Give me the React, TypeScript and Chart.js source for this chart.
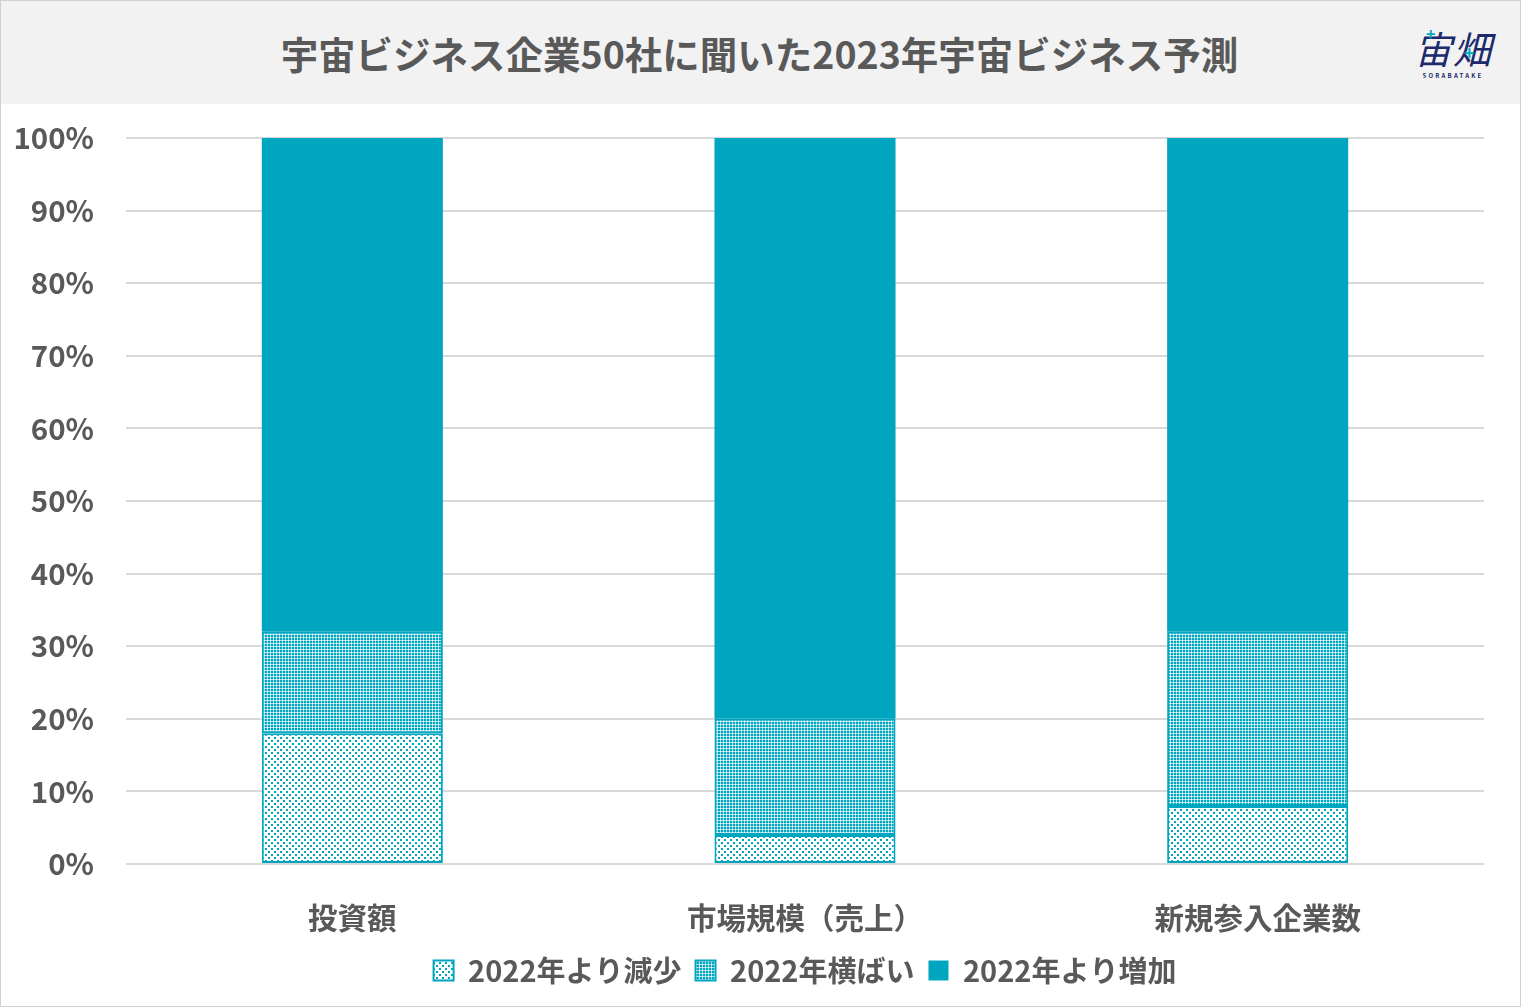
import { useEffect, useRef } from "react";
import Chart from "chart.js/auto";

const categories = ["投資額", "市場規模（売上）", "新規参入企業数"];
const decreased = [18, 4, 8];
const unchanged = [14, 16, 24];
const increased = [68, 80, 68];
const seriesNames = ["2022年より減少", "2022年横ばい", "2022年より増加"];

const TEAL = "#00a6c0";
const TEXT = "#595959";
const NAVY = "#1c2a6c";
const FONT = "'Noto Sans CJK JP', 'Noto Sans', sans-serif";

function makePattern(kind: "sparse" | "dense"): CanvasPattern | string {
  const c = document.createElement("canvas");
  const ctx = c.getContext("2d");
  if (!ctx) return TEAL;
  if (kind === "sparse") {
    c.width = 6;
    c.height = 6;
    ctx.fillStyle = "#ffffff";
    ctx.fillRect(0, 0, 6, 6);
    ctx.fillStyle = TEAL;
    ctx.fillRect(0, 0, 2, 2);
    ctx.fillRect(3, 3, 2, 2);
  } else {
    c.width = 3;
    c.height = 3;
    ctx.fillStyle = "#ffffff";
    ctx.fillRect(0, 0, 3, 3);
    ctx.fillStyle = TEAL;
    ctx.fillRect(0, 0, 2, 2);
    ctx.fillStyle = "rgba(0,166,192,0.35)";
    ctx.fillRect(2, 0, 1, 2);
    ctx.fillRect(0, 2, 2, 1);
  }
  return ctx.createPattern(c, "repeat") ?? TEAL;
}

function StackedChart() {
  const canvasRef = useRef<HTMLCanvasElement>(null);
  const chartRef = useRef<Chart | null>(null);

  useEffect(() => {
    if (!canvasRef.current) return;
    chartRef.current?.destroy();

    const sparse = makePattern("sparse");
    const dense = makePattern("dense");

    chartRef.current = new Chart(canvasRef.current, {
      type: "bar",
      data: {
        labels: categories,
        datasets: [
          { label: seriesNames[0], data: decreased, backgroundColor: sparse, borderColor: TEAL, borderWidth: 2, borderSkipped: false },
          { label: seriesNames[1], data: unchanged, backgroundColor: dense, borderColor: TEAL, borderWidth: 2, borderSkipped: false },
          { label: seriesNames[2], data: increased, backgroundColor: TEAL, borderColor: TEAL, borderWidth: 0 },
        ],
      },
      options: {
        animation: false,
        responsive: true,
        maintainAspectRatio: false,
        datasets: { bar: { barPercentage: 0.4, categoryPercentage: 1 } },
        layout: { padding: { top: 34, right: 36, bottom: 11, left: 0 } },
        plugins: {
          legend: {
            position: "bottom",
            fullSize: false,
            labels: {
              color: TEXT,
              font: { family: FONT, size: 29, weight: "bold" },
              boxWidth: 20,
              boxHeight: 20,
              padding: 14,
            },
          },
          tooltip: { enabled: false },
        },
        scales: {
          x: {
            stacked: true,
            afterFit: (s) => {
              s.height = 78;
            },
            grid: { display: false },
            border: { display: false },
            ticks: { color: TEXT, font: { family: FONT, size: 29.5, weight: "bold" }, padding: 28 },
          },
          y: {
            stacked: true,
            min: 0,
            max: 100,
            afterFit: (s) => {
              s.width = 125;
              s.paddingTop = 0;
              s.paddingBottom = 0;
            },
            grid: { color: "#d9d9d9", lineWidth: 2, drawTicks: false },
            border: { display: false },
            ticks: {
              stepSize: 10,
              color: TEXT,
              padding: 32,
              font: { family: FONT, size: 29.5, weight: "bold" },
              callback: (v) => `${v}%`,
            },
          },
        },
      },
    });

    return () => {
      chartRef.current?.destroy();
      chartRef.current = null;
    };
  }, []);

  return (
    <div style={{ position: "relative", height: 902 }}>
      <canvas ref={canvasRef} />
    </div>
  );
}

export default function App() {
  return (
    <div
      style={{
        position: "absolute",
        left: 0,
        top: 0,
        width: 1521,
        height: 1007,
        boxSizing: "border-box",
        border: "1px solid #d0d0d0",
        background: "#ffffff",
        fontFamily: FONT,
        overflow: "hidden",
      }}
    >
      <div
        style={{
          height: 103,
          background: "#f2f2f2",
          position: "relative",
          display: "flex",
          alignItems: "center",
          justifyContent: "center",
        }}
      >
        <div style={{ color: TEXT, fontSize: 37.5, fontWeight: 700, marginLeft: -2 }}>
          宇宙ビジネス企業50社に聞いた2023年宇宙ビジネス予測
        </div>
        <div style={{ position: "absolute", left: 1408, top: 24, width: 88, textAlign: "center" }}>
          <div style={{ position: "absolute", left: 17, top: -4, color: TEAL, fontSize: 16, fontWeight: 700 }}>+</div>
          <div style={{ position: "absolute", left: 55, top: 14, color: TEAL, fontSize: 18, fontWeight: 700 }}>+</div>
          <div style={{ color: NAVY, fontSize: 38, lineHeight: "46px", fontStyle: "italic", letterSpacing: 1 }}>
            宙畑
          </div>
          <div style={{ color: NAVY, fontSize: 6, fontWeight: 700, letterSpacing: 2.2, lineHeight: "10px" }}>
            SORABATAKE
          </div>
        </div>
      </div>
      <StackedChart />
    </div>
  );
}
